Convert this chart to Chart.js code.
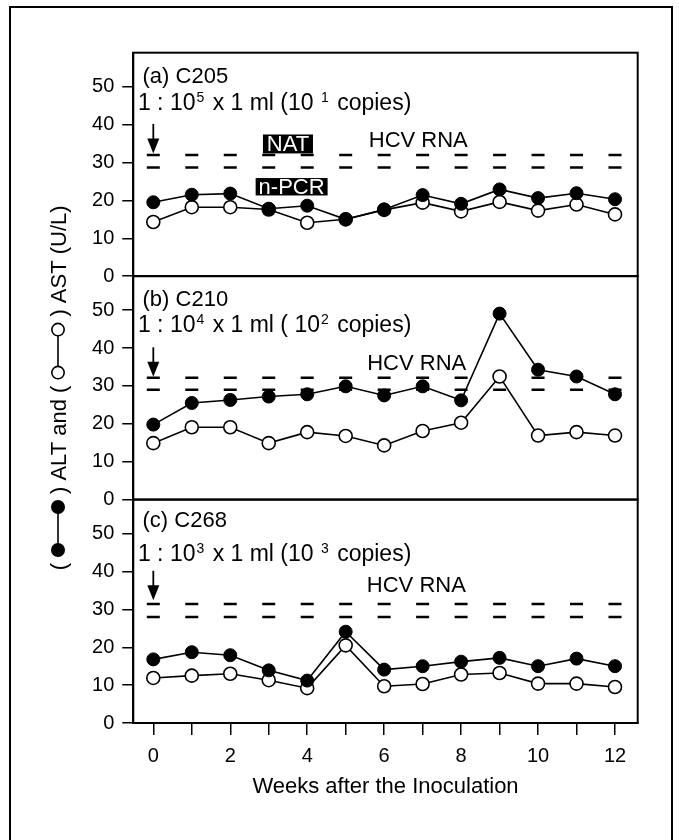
<!DOCTYPE html>
<html>
<head>
<meta charset="utf-8">
<script src="https://cdn.jsdelivr.net/npm/chart.js@4.4.1/dist/chart.umd.min.js"></script>
<style>
html,body{margin:0;padding:0;background:#fff;}
#wrap{position:relative;width:679px;height:840px;}
</style>
</head>
<body>
<div id="wrap"><canvas id="c"></canvas></div>
<script>
// ---------- data ----------
const weeks = [0, 1, 2, 3, 4, 5, 6, 7, 8, 9, 10, 11, 12];
const xTickLabels = ['0', '', '2', '', '4', '', '6', '', '8', '', '10', '', '12'];
const yTicks = [0, 10, 20, 30, 40, 50];

// (a) C205
const altA = [19.5, 21.5, 21.8, 17.8, 18.6, 15.0, 17.6, 21.4, 19.1, 22.9, 20.6, 21.9, 20.3];
const astA = [14.3, 18.2, 18.2, 17.6, 14.1, 15.0, 17.5, 19.4, 17.1, 19.6, 17.3, 18.9, 16.3];
const hcvHighA = [32.0, 32.0, 32.0, 32.0, 32.0, 32.0, 32.0, 32.0, 32.0, 32.0, 32.0, 32.0, 32.0];
const hcvLowA  = [28.7, 28.7, 28.7, 28.7, 28.7, 28.7, 28.7, 28.7, 28.7, 28.7, 28.7, 28.7, 28.7];

// (b) C210
const altB = [19.8, 25.5, 26.3, 27.2, 27.8, 29.9, 27.5, 29.9, 26.2, 49.1, 34.3, 32.5, 27.8];
const astB = [14.9, 19.1, 19.1, 14.9, 17.8, 16.8, 14.3, 18.1, 20.3, 32.5, 16.9, 17.8, 16.9];
const hcvHighB = [32.2, 32.2, 32.2, 32.2, 32.2, 32.2, 32.2, 32.2, 32.2, 32.2, 32.2, 32.2, 32.2];
const hcvLowB  = [29.0, 29.0, 29.0, 29.0, 29.0, 29.0, 29.0, 29.0, 29.0, 29.0, 29.0, 29.0, 29.0];

// (c) C268
const altC = [16.8, 18.7, 17.9, 13.9, 11.2, 24.1, 14.1, 15.0, 16.2, 17.2, 15.0, 17.0, 15.0];
const astC = [11.9, 12.5, 13.0, 11.3, 9.2, 20.5, 9.7, 10.3, 12.8, 13.2, 10.4, 10.4, 9.5];
const hcvHighC = [31.4, 31.4, 31.4, 31.4, 31.4, 31.4, 31.4, 31.4, 31.4, 31.4, 31.4, 31.4, 31.4];
const hcvLowC  = [28.0, 28.0, 28.0, 28.0, 28.0, 28.0, 28.0, 28.0, 28.0, 28.0, 28.0, 28.0, 28.0];

const panelNames = ['(a) C205', '(b) C210', '(c) C268'];
const dilutionTexts = ['1 : 10^5 x 1 ml (10 ^1 copies)', '1 : 10^4 x 1 ml ( 10^2 copies)', '1 : 10^3 x 1 ml (10 ^3 copies)'];
const hcvLabel = 'HCV RNA';
const natLabel = 'NAT';
const pcrLabel = 'n-PCR';
const xTitle = 'Weeks after the Inoculation';
const yTitleParts = ['(', ')', ' ALT and (', ') AST (U/L)'];

// ---------- layout / style (not data) ----------
const FONT = '"Liberation Sans", Arial, Helvetica, sans-serif';
Chart.defaults.font.family = FONT;
Chart.defaults.color = '#000';
const panelIds = ['yA', 'yB', 'yC'];
const namePos = [{x: -0.28, y: 51}, {x: -0.28, y: 51.2}, {x: -0.28, y: 51.8}];
const dilPos = [{x: -0.40, y: 44}, {x: -0.40, y: 44.2}, {x: -0.40, y: 42.8}];
const hcvPos = [{x: 5.6, y: 34}, {x: 5.56, y: 34.1}, {x: 5.55, y: 34.6}];

function pts(vals) { return weeks.map((w, i) => ({x: w, y: vals[i]})); }

const series = [
  [altA, astA, hcvHighA, hcvLowA],
  [altB, astB, hcvHighB, hcvLowB],
  [altC, astC, hcvHighC, hcvLowC]
];

const datasets = [];
series.forEach((s, p) => {
  const yid = panelIds[p];
  datasets.push({label: 'ALT', data: pts(s[0]), yAxisID: yid, order: 0,
    borderColor: '#000', borderWidth: 1.6, tension: 0, fill: false,
    pointRadius: 6.5, pointBackgroundColor: '#000', pointBorderColor: '#000', pointBorderWidth: 1});
  datasets.push({label: 'AST', data: pts(s[1]), yAxisID: yid, order: 1,
    borderColor: '#000', borderWidth: 1.6, tension: 0, fill: false,
    pointRadius: 6.5, pointBackgroundColor: '#fff', pointBorderColor: '#000', pointBorderWidth: 1.6});
  [s[2], s[3]].forEach(v => datasets.push({label: 'HCV RNA', data: pts(v), yAxisID: yid, order: 2,
    showLine: false, pointStyle: 'line', pointRadius: 6.5, pointBorderColor: '#000', pointBorderWidth: 2.5,
    borderColor: '#000'}));
});

function yScale(weight) {
  return {
    type: 'linear', position: 'left', stack: 'panels', stackWeight: 1, weight: weight,
    min: 0, max: 59,
    afterBuildTicks: s => { s.ticks = yTicks.map(v => ({value: v})); },
    ticks: {autoSkip: false, color: '#000', font: {size: 20}, padding: 8, callback: v => String(v)},
    grid: {drawOnChartArea: false, drawTicks: true, tickLength: 11, color: '#000', lineWidth: 1.5},
    border: {display: true, color: '#000', width: 2},
    afterFit: s => { s.width = 60; }
  };
}

function drawRich(ctx, str, x, y) {
  const parts = [];
  let buf = '';
  for (let i = 0; i < str.length; i++) {
    if (str[i] === '^') {
      if (buf) parts.push({t: buf});
      buf = '';
      parts.push({t: str[i + 1], sup: true});
      i++;
    } else buf += str[i];
  }
  if (buf) parts.push({t: buf});
  for (const p of parts) {
    ctx.font = (p.sup ? '14px ' : '23px ') + FONT;
    ctx.fillText(p.t, x + (p.sup ? 1 : 0), p.sup ? y - 8 : y);
    x += ctx.measureText(p.t).width + (p.sup ? 3 : 0);
  }
}

const annot = {
  id: 'annot',
  beforeDatasetsDraw(chart) {
    const ctx = chart.ctx, a = chart.chartArea, xs = chart.scales.x;
    ctx.save();
    ctx.strokeStyle = '#000';
    ctx.lineWidth = 2;
    panelIds.forEach(id => {
      const s = chart.scales[id];
      ctx.strokeRect(a.left, s.top, a.right - a.left, s.bottom - s.top);
    });
    ctx.fillStyle = '#000';
    ctx.textBaseline = 'alphabetic';
    ctx.textAlign = 'left';
    panelIds.forEach((id, p) => {
      const ys = chart.scales[id];
      ctx.font = '22px ' + FONT;
      ctx.fillText(panelNames[p], xs.getPixelForValue(namePos[p].x), ys.getPixelForValue(namePos[p].y));
      drawRich(ctx, dilutionTexts[p], xs.getPixelForValue(dilPos[p].x), ys.getPixelForValue(dilPos[p].y));
      ctx.font = '22px ' + FONT;
      ctx.fillText(hcvLabel, xs.getPixelForValue(hcvPos[p].x), ys.getPixelForValue(hcvPos[p].y));
      // arrow marking the inoculation at week 0
      const ax = xs.getPixelForValue(0);
      const y1 = ys.getPixelForValue(40.2), y2 = ys.getPixelForValue(32.4);
      ctx.lineWidth = 1.8;
      ctx.beginPath(); ctx.moveTo(ax, y1); ctx.lineTo(ax, y2 - 10); ctx.stroke();
      ctx.beginPath(); ctx.moveTo(ax - 6, y2 - 15); ctx.lineTo(ax + 6, y2 - 15); ctx.lineTo(ax, y2); ctx.closePath(); ctx.fill();
    });
    // NAT / n-PCR boxes (panel a)
    const ya = chart.scales.yA;
    const box = (x0, x1, v0, v1, txt) => {
      const l = xs.getPixelForValue(x0), r = xs.getPixelForValue(x1);
      const t = ya.getPixelForValue(v0), b = ya.getPixelForValue(v1);
      ctx.fillStyle = '#000';
      ctx.fillRect(l, t, r - l, b - t);
      ctx.fillStyle = '#fff';
      ctx.font = '22px ' + FONT;
      ctx.textAlign = 'center';
      ctx.textBaseline = 'middle';
      ctx.fillText(txt, (l + r) / 2, (t + b) / 2 + 1);
    };
    box(2.85, 4.15, 37.4, 32.4, natLabel);
    box(2.66, 4.53, 25.9, 21.3, pcrLabel);
    ctx.restore();
  },
  afterDraw(chart) {
    const ctx = chart.ctx;
    ctx.save();
    // outer frame
    ctx.strokeStyle = '#000';
    ctx.lineWidth = 2;
    ctx.beginPath();
    ctx.moveTo(10, 840); ctx.lineTo(10, 7); ctx.lineTo(672, 7); ctx.lineTo(672, 840);
    ctx.stroke();
    // y axis title with line/marker symbols
    const cy = (chart.scales.yA.top + chart.scales.yC.bottom) / 2;
    ctx.font = '22px ' + FONT;
    const r = 7, dist = 43, gap = 6, mLen = 2 * r + dist;
    const items = [
      {t: yTitleParts[0]}, {g: gap}, {m: '#000'}, {g: gap}, {t: yTitleParts[1]},
      {t: yTitleParts[2]}, {g: gap}, {m: '#fff'}, {g: gap}, {t: yTitleParts[3]}
    ];
    let total = 0;
    items.forEach(it => { total += it.t ? ctx.measureText(it.t).width : it.g ? it.g : mLen; });
    ctx.translate(58, cy);
    ctx.rotate(-Math.PI / 2);
    let x = -total / 2;
    ctx.fillStyle = '#000';
    ctx.textBaseline = 'alphabetic';
    ctx.textAlign = 'left';
    items.forEach(it => {
      if (it.t) { ctx.fillText(it.t, x, 8); x += ctx.measureText(it.t).width; }
      else if (it.g) { x += it.g; }
      else {
        const c1 = x + r, c2 = x + r + dist;
        ctx.lineWidth = 1.6;
        ctx.beginPath(); ctx.moveTo(c1, 0); ctx.lineTo(c2, 0); ctx.stroke();
        [c1, c2].forEach(c => {
          ctx.beginPath(); ctx.arc(c, 0, r - 0.8, 0, Math.PI * 2);
          ctx.fillStyle = it.m; ctx.fill();
          ctx.lineWidth = 1.6; ctx.strokeStyle = '#000'; ctx.stroke();
        });
        ctx.fillStyle = '#000';
        x += mLen;
      }
    });
    ctx.restore();
  }
};

new Chart(document.getElementById('c'), {
  type: 'line',
  data: {datasets: datasets},
  options: {
    responsive: true,
    maintainAspectRatio: false,
    animation: false,
    events: [],
    layout: {padding: {top: 52.7, right: 41.3, left: 73.3, bottom: 0}},
    plugins: {legend: {display: false}, tooltip: {enabled: false}, title: {display: false}},
    scales: {
      x: {
        type: 'linear', min: -0.52, max: 12.59,
        afterBuildTicks: s => { s.ticks = weeks.map(v => ({value: v})); },
        ticks: {autoSkip: false, maxRotation: 0, color: '#000', font: {size: 20}, padding: 9,
          callback: v => xTickLabels[weeks.indexOf(Math.round(v))]},
        grid: {drawOnChartArea: false, drawTicks: true, tickLength: 12, color: '#000', lineWidth: 1.5},
        border: {display: true, color: '#000', width: 2},
        title: {display: true, text: xTitle, color: '#000', font: {size: 22}, padding: {top: 4, bottom: 40}},
        afterFit: s => { s.height = 117; }
      },
      yA: yScale(3),
      yB: yScale(2),
      yC: yScale(1)
    }
  },
  plugins: [annot]
});
</script>
</body>
</html>
